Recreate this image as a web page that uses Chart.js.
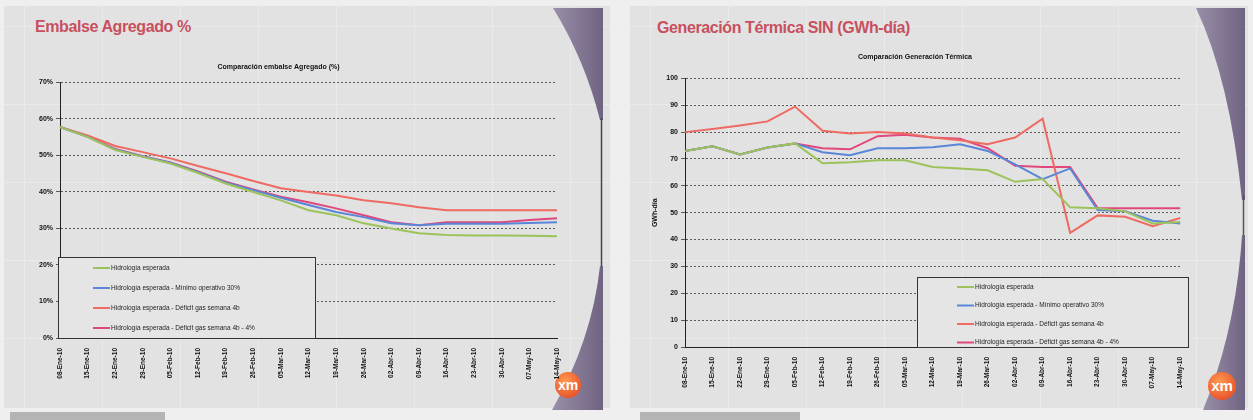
<!DOCTYPE html>
<html>
<head>
<meta charset="utf-8">
<script src="https://cdn.jsdelivr.net/npm/chart.js@4.4.0/dist/chart.umd.min.js"></script>
<style>
  body { margin: 0; width: 1253px; height: 420px; background: #efefef; position: relative; overflow: hidden;
         font-family: "Liberation Sans", Arial, sans-serif; }
  .slide { position: absolute; top: 6px; height: 402px; background-color: #e2e2e2;
           background-image: linear-gradient(#eaeaea 1px, transparent 1px), linear-gradient(90deg, #eaeaea 1px, transparent 1px);
           background-size: 78px 78px; background-position: 20px 20px; }
  .title { position: absolute; font-size: 16px; font-weight: bold; color: #c7505f; letter-spacing: -0.4px; }
  .bar { position: absolute; top: 412px; height: 8px; background: #b4b4b4; }
  canvas { position: absolute; }
  svg { position: absolute; left: 0; top: 0; }
</style>
</head>
<body>
<div class="slide" style="left:4px;width:606px"></div>
<div class="slide" style="left:630px;width:618px"></div>
<div class="bar" style="left:10px;width:155px"></div>
<div class="bar" style="left:640px;width:160px"></div>

<svg width="1253" height="420">
  <defs>
    <linearGradient id="pg" x1="0" y1="0" x2="1" y2="0">
      <stop offset="0" stop-color="#9a8fa8"/>
      <stop offset="1" stop-color="#6f6382"/>
    </linearGradient>
    <radialGradient id="og" cx="0.4" cy="0.35" r="0.7">
      <stop offset="0" stop-color="#ff9a50"/>
      <stop offset="1" stop-color="#e8502a"/>
    </radialGradient>
  </defs>
  <!-- left slide decoration -->
  <path d="M553,8 Q585,60 600,120 L603,120 L603,8 Z" fill="url(#pg)"/>
  <line x1="601.5" y1="118" x2="601.5" y2="268" stroke="#444" stroke-width="1.5"/>
  <path d="M603,266 L603,410 L552,410 Q592,340 600,266 Z" fill="url(#pg)"/>
  <circle cx="568" cy="385" r="13" fill="url(#og)"/>
  <text x="568" y="390" text-anchor="middle" font-family="Liberation Sans, Arial" font-weight="bold" font-size="14" fill="#fff">xm</text>
  <!-- right slide decoration -->
  <path d="M1196,8 Q1230,80 1242,200 L1245,200 L1245,8 Z" fill="url(#pg)"/>
  <line x1="1243.5" y1="195" x2="1243.5" y2="240" stroke="#555" stroke-width="1.5"/>
  <path d="M1245,235 L1245,410 L1203,410 Q1236,330 1242,235 Z" fill="url(#pg)"/>
  <circle cx="1222" cy="386" r="14" fill="url(#og)"/>
  <text x="1222" y="391" text-anchor="middle" font-family="Liberation Sans, Arial" font-weight="bold" font-size="15" fill="#fff">xm</text>
</svg>

<div class="title" style="left:35px;top:18px">Embalse Agregado %</div>
<div class="title" style="left:657px;top:19px">Generación Térmica SIN (GWh-día)</div>

<canvas id="embalse" width="600" height="326" style="left:0px;top:60px"></canvas>
<canvas id="termica" width="545" height="350" style="left:645px;top:45px"></canvas>

<script>
// weekly dates shared by both charts
const fechas = ['08-Ene-10', '15-Ene-10', '22-Ene-10', '29-Ene-10', '05-Feb-10', '12-Feb-10', '19-Feb-10',
  '26-Feb-10', '05-Mar-10', '12-Mar-10', '19-Mar-10', '26-Mar-10', '02-Abr-10', '09-Abr-10',
  '16-Abr-10', '23-Abr-10', '30-Abr-10', '07-May-10', '14-May-10'];

const escenarios = ['Hidrología esperada', 'Hidrología esperada - Mínimo operativo 30%',
  'Hidrología esperada - Déficit gas semana 4b', 'Hidrología esperada - Déficit gas semana 4b - 4%'];

const colores = ['#9cc25a', '#5a86d8', '#ee6a62', '#e0487c'];

// Embalse agregado (%)
const embalseBase   = [57.8, 55.1, 51.5, 49.6, 47.8, 45.2, 42.3, 40.0, 37.7, 35.0, 33.6, 31.4, 30.0, 28.7, 28.2, 28.1, 28.1, 28.0, 27.9];
const embalseMinimo = [57.8, 55.1, 51.6, 49.7, 48.0, 45.4, 42.6, 40.5, 38.4, 36.4, 34.5, 33.1, 31.4, 30.9, 31.3, 31.3, 31.3, 31.5, 31.7];
const embalseGas    = [57.8, 55.5, 52.6, 50.9, 49.2, 47.1, 45.1, 43.0, 41.0, 40.0, 39.0, 37.7, 36.9, 35.8, 35.0, 35.0, 35.0, 35.0, 35.0];
const embalseGas4   = [57.8, 55.2, 51.8, 49.8, 48.1, 45.6, 42.8, 40.7, 38.7, 37.2, 35.5, 33.6, 31.7, 30.9, 31.7, 31.7, 31.7, 32.3, 32.8];

// Generación térmica (GWh-día)
const termicaBase   = [73.0, 74.7, 71.7, 74.3, 75.8, 68.4, 68.8, 69.5, 69.5, 67.0, 66.5, 65.8, 61.5, 62.5, 52.0, 51.7, 50.5, 46.0, 46.5];
const termicaMinimo = [73.0, 74.7, 71.7, 74.3, 75.8, 72.5, 71.4, 74.0, 74.0, 74.4, 75.5, 73.0, 68.0, 62.5, 66.5, 51.0, 50.5, 47.0, 46.0];
const termicaGas    = [80.0, 81.2, 82.5, 84.0, 89.5, 80.5, 79.5, 80.0, 79.5, 78.0, 77.0, 75.5, 78.0, 85.0, 42.5, 49.0, 48.5, 45.0, 48.0];
const termicaGas4   = [73.0, 74.7, 71.7, 74.3, 75.8, 74.0, 73.6, 78.5, 79.0, 78.0, 77.5, 74.0, 67.5, 67.0, 67.0, 51.7, 51.7, 51.7, 51.7];

const fuente = '"Liberation Sans", Arial, sans-serif';

const boxLegend = {
  id: 'boxLegend',
  afterDraw(chart, args, o) {
    const ctx = chart.ctx;
    ctx.save();
    ctx.fillStyle = '#e5e5e5';
    ctx.fillRect(o.x, o.y, o.w, o.h);
    ctx.strokeStyle = '#333';
    ctx.lineWidth = 1;
    ctx.strokeRect(o.x + 0.5, o.y + 0.5, o.w, o.h);
    ctx.font = '6.5px ' + fuente;
    ctx.textBaseline = 'middle';
    chart.data.datasets.forEach((ds, i) => {
      const y = o.y + o.first + i * o.step;
      ctx.strokeStyle = ds.borderColor;
      ctx.lineWidth = 2;
      ctx.beginPath();
      ctx.moveTo(o.lineX, y);
      ctx.lineTo(o.lineX + 17, y);
      ctx.stroke();
      ctx.fillStyle = '#222';
      ctx.fillText(ds.label, o.lineX + 18, y);
    });
    ctx.restore();
  }
};

function series(values) {
  return values.map((v, i) => ({
    label: escenarios[i],
    data: v,
    borderColor: colores[i],
    backgroundColor: colores[i],
    borderWidth: 2,
    pointRadius: 0,
    tension: 0,
    fill: false
  }));
}

function axes(yMax, yFmt, yWidth, yTitle) {
  return {
    x: {
      afterFit: s => { s.height = 48; },
      grid: { display: false },
      border: { display: true, color: '#222', width: 1 },
      ticks: { autoSkip: false, minRotation: 90, maxRotation: 90, padding: 2, color: '#111',
               font: { family: fuente, size: 6.5, weight: 'bold' } }
    },
    y: {
      min: 0, max: yMax,
      afterFit: s => { s.width = yWidth; },
      grid: { color: 'rgba(45,45,45,0.75)', lineWidth: 1, tickLength: 4 },
      border: { display: true, color: '#222', width: 1, dash: [2, 2] },
      title: { display: !!yTitle, text: yTitle, color: '#111', padding: { top: 6, bottom: 0 },
               font: { family: fuente, size: 7, weight: 'bold' } },
      ticks: { stepSize: 10, padding: 3, color: '#111', callback: yFmt,
               font: { family: fuente, size: 7, weight: 'bold' } }
    }
  };
}

new Chart(document.getElementById('embalse'), {
  type: 'line',
  data: { labels: fechas, datasets: series([embalseBase, embalseMinimo, embalseGas, embalseGas4]) },
  options: {
    responsive: false,
    animation: false,
    layout: { padding: { left: 0, right: 43, top: 0, bottom: 0 } },
    plugins: {
      legend: { display: false },
      tooltip: { enabled: false },
      title: { display: true, text: 'Comparación embalse Agregado (%)', color: '#111',
               font: { family: fuente, size: 7, weight: 'bold' }, padding: { top: 3, bottom: 11 } },
      boxLegend: { x: 58, y: 197, w: 257, h: 81, first: 11, step: 20, lineX: 93 }
    },
    scales: axes(70, v => v + '%', 60, '')
  },
  plugins: [boxLegend]
});

new Chart(document.getElementById('termica'), {
  type: 'line',
  data: { labels: fechas, datasets: series([termicaBase, termicaMinimo, termicaGas, termicaGas4]) },
  options: {
    responsive: false,
    animation: false,
    layout: { padding: { left: 0, right: 5, top: 0, bottom: 0 } },
    plugins: {
      legend: { display: false },
      tooltip: { enabled: false },
      title: { display: true, text: 'Comparación Generación Térmica', color: '#111',
               font: { family: fuente, size: 7, weight: 'bold' }, padding: { top: 8, bottom: 17 } },
      boxLegend: { x: 272, y: 232, w: 271, h: 70, first: 10, step: 18.5, lineX: 312 }
    },
    scales: axes(100, v => v, 40, 'GWh-día')
  },
  plugins: [boxLegend]
});
</script>
</body>
</html>
